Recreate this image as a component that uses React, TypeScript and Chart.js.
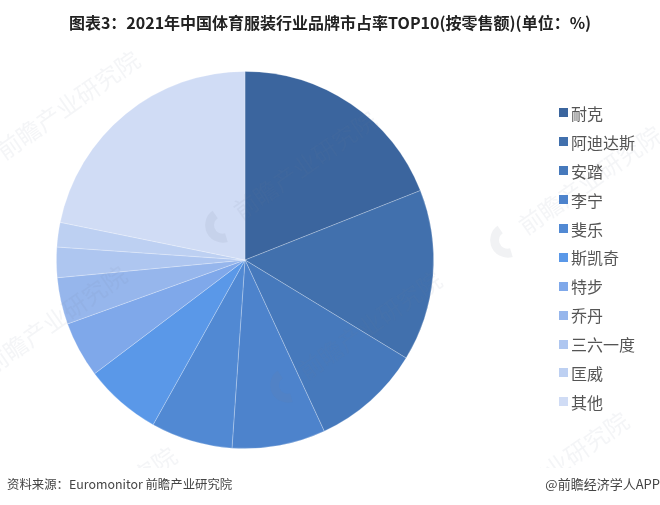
import { useEffect, useRef } from 'react';
import { Chart, registerables, type Plugin } from 'chart.js';

Chart.register(...registerables);

const brands = ['耐克', '阿迪达斯', '安踏', '李宁', '斐乐', '斯凯奇', '特步', '乔丹', '三六一度', '匡威', '其他'];
const shares = [19.0, 14.7, 9.4, 8.0, 7.0, 6.6, 4.8, 4.0, 2.6, 2.1, 21.8];
const colors = ['#3b659e', '#4170ad', '#4679bc', '#4d83cc', '#5189d3', '#5a98e8', '#7fa8ea', '#96b6ec', '#aec6f0', '#bdd0f2', '#d0dcf5'];

const SANS = '"Noto Sans CJK SC", "Liberation Sans", sans-serif';

// faint site watermark: centre x, centre y
const marks: [number, number][] = [
  [68, 105],
  [590, 180],
  [55, 320],
  [370, 325],
  [305, 165],
  [557, 466],
  [105, 501],
];

const watermarkPlugin: Plugin<'pie'> = {
  id: 'watermark',
  afterDraw(chart) {
    const { ctx } = chart;
    ctx.save();
    // the footer band hides the watermark
    ctx.beginPath();
    ctx.rect(0, 0, 660, 468);
    ctx.clip();
    ctx.textAlign = 'center';
    ctx.textBaseline = 'middle';
    for (const [x, y] of marks) {
      ctx.save();
      ctx.translate(x, y);
      ctx.rotate((-35 * Math.PI) / 180);
      ctx.fillStyle = 'rgba(120,130,150,0.08)';
      ctx.font = `24px ${SANS}`;
      ctx.fillText('前瞻产业研究院', 0, 0);
      // logo crescent in front of the name
      ctx.strokeStyle = 'rgba(120,130,150,0.10)';
      ctx.lineWidth = 9;
      ctx.beginPath();
      ctx.arc(-102, 2, 13, Math.PI * 0.6, Math.PI * 1.5);
      ctx.stroke();
      ctx.restore();
    }
    ctx.restore();
  },
};

export default function App() {
  const canvasRef = useRef<HTMLCanvasElement>(null);

  useEffect(() => {
    const canvas = canvasRef.current;
    if (!canvas) return;
    const chart = new Chart(canvas, {
      type: 'pie',
      data: {
        labels: brands,
        datasets: [{ data: shares, backgroundColor: colors, borderColor: 'rgba(255,255,255,0.3)', borderWidth: 0.8 }],
      },
      options: {
        responsive: false,
        animation: false,
        layout: { padding: { left: 56, right: 226, top: 71, bottom: 56 } },
        plugins: { legend: { display: false }, tooltip: { enabled: false } },
      },
      plugins: [watermarkPlugin],
    });
    return () => chart.destroy();
  }, []);

  return (
    <div style={{ position: 'absolute', left: 0, top: 0, width: 660, height: 505, background: '#fff', fontFamily: SANS, overflow: 'hidden' }}>
      <canvas ref={canvasRef} width={660} height={505} style={{ position: 'absolute', left: 0, top: 0 }} />
      <div style={{ position: 'absolute', left: 0, width: 660, top: 11, textAlign: 'center', fontSize: 16, lineHeight: '22px', fontWeight: 700, color: '#222', whiteSpace: 'nowrap' }}>
        图表3：2021年中国体育服装行业品牌市占率TOP10(按零售额)(单位：%)
      </div>
      <div style={{ position: 'absolute', left: 559, top: 98.5 }}>
        {brands.map((b, i) => (
          <div key={b} style={{ display: 'flex', alignItems: 'center', height: 28.9, fontSize: 16, color: '#555', whiteSpace: 'nowrap' }}>
            <span style={{ width: 9, height: 9, background: colors[i], marginRight: 3 }} />
            {b}
          </div>
        ))}
      </div>
      <div style={{ position: 'absolute', left: 7, top: 475, fontSize: 12.4, lineHeight: '18px', color: '#444', whiteSpace: 'nowrap' }}>
        资料来源：Euromonitor 前瞻产业研究院
      </div>
      <div style={{ position: 'absolute', right: 0, top: 475, fontSize: 13, lineHeight: '18px', color: '#444', whiteSpace: 'nowrap' }}>
        @前瞻经济学人APP
      </div>
    </div>
  );
}
